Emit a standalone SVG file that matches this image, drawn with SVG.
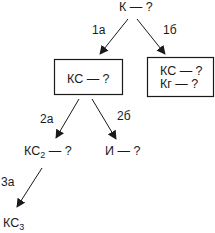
<svg xmlns="http://www.w3.org/2000/svg" width="215" height="233" viewBox="0 0 215 233">
<defs>
<style>
text{font-family:"Liberation Sans",Arial,sans-serif;font-size:12.5px;fill:#1a1a1a}
.lbl{font-size:12px}
.box{fill:#fff;stroke:#1a1a1a;stroke-width:1.2}
.con{stroke:#1a1a1a;stroke-width:1;fill:none;marker-end:url(#ah)}
</style>
<marker id="ah" viewBox="0 0 10 10" refX="9" refY="5" markerWidth="9" markerHeight="9" markerUnits="userSpaceOnUse" orient="auto">
<path d="M0,0 L10,5 L0,10 z" fill="#1a1a1a"/>
</marker>
</defs>
<rect width="215" height="233" fill="#fff"/>
<g id="connectors">
<line class="con" x1="128" y1="19" x2="100" y2="54"/>
<line class="con" x1="137" y1="19" x2="165" y2="54"/>
<line class="con" x1="79" y1="99" x2="56" y2="138"/>
<line class="con" x1="92" y1="99" x2="116" y2="139"/>
<line class="con" x1="42" y1="168" x2="17" y2="207"/>
<text class="lbl" x="92" y="34">1а</text>
<text class="lbl" x="163" y="34">1б</text>
<text class="lbl" x="40" y="123">2а</text>
<text class="lbl" x="117" y="120">2б</text>
<text class="lbl" x="1" y="186">3а</text>
</g>
<g id="n-k"><text x="119" y="11">К — ?</text></g>
<g id="n-ks"><rect class="box" x="54.5" y="59.5" width="68" height="35"/><text x="67" y="83">КС — ?</text></g>
<g id="n-ks-kg"><rect class="box" x="147.5" y="57.5" width="66" height="39"/><text x="160" y="75">КС — ?</text><text x="160" y="88">Кг — ?</text></g>
<g id="n-ks2"><text x="24" y="155">КС<tspan font-size="9" dy="3">2</tspan><tspan dy="-3"> — ?</tspan></text></g>
<g id="n-i"><text x="105" y="155">И — ?</text></g>
<g id="n-ks3"><text x="3" y="227">КС<tspan font-size="9" dy="3">3</tspan></text></g>
</svg>
